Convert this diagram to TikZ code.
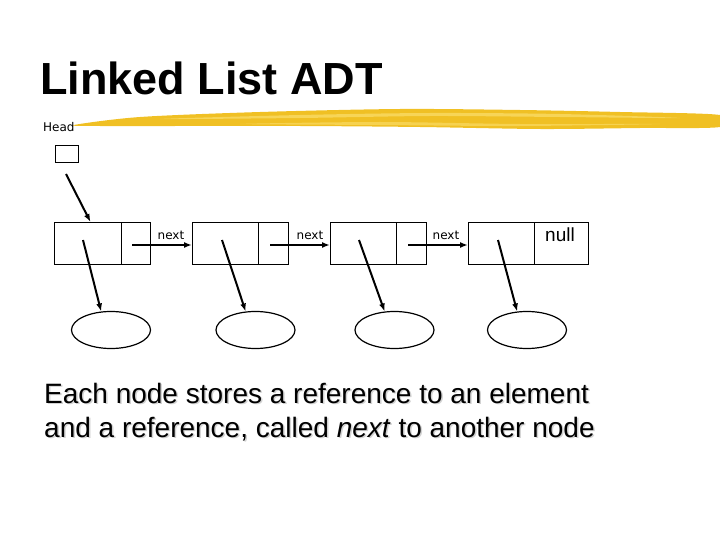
\documentclass[tikz,border=0pt]{standalone}
\usepackage{fontspec}
\setmainfont{Liberation Sans}
\newfontfamily\smallfont{DejaVu Sans}
\usetikzlibrary{arrows.meta,shapes.geometric,calc}
\definecolor{brushyellow}{RGB}{240,192,36}
\definecolor{brushlight}{RGB}{250,222,110}
\begin{document}
\begin{tikzpicture}[x=1pt,y=-1pt,
  cell/.style={draw,line width=1pt,minimum height=42pt,inner sep=0pt,anchor=north west},
  elem/.style={draw,ellipse,line width=1.2pt,minimum width=79pt,minimum height=37pt,inner sep=0pt},
  ptr/.style={line width=2pt,-{Latex[length=8pt,width=6pt]}},
  lbl/.style={font=\smallfont\fontsize{12}{14}\selectfont,inner sep=0pt,anchor=base},
  body/.style={font=\fontsize{28}{34}\selectfont,inner sep=0pt,anchor=base west}
]
\useasboundingbox (0,0) rectangle (720,540);
% brush stroke
\fill[brushyellow] plot[smooth cycle,tension=0.5] coordinates{
 (74,125) (140,117) (260,112) (400,109) (520,110) (620,112) (720,115)
 (720,127) (640,128) (540,129) (420,127) (300,126) (180,126) (100,126)};
\fill[brushlight,opacity=0.7] plot[smooth cycle,tension=0.5] coordinates{
 (160,119) (300,115) (430,113) (560,114) (680,118) (560,117) (430,116) (300,118)};
\fill[brushlight,opacity=0.6] plot[smooth cycle,tension=0.5] coordinates{
 (240,124) (380,122) (520,124) (660,124) (520,126) (380,125)};
% title
\node[font=\bfseries\fontsize{45}{54}\selectfont,inner sep=0pt,anchor=base west] (title) at (40,95) {Linked List ADT};
% head
\node[lbl,anchor=base west] (headlbl) at (43,132) {Head};
\node[draw,line width=1pt,minimum width=23pt,minimum height=17pt,inner sep=0pt,anchor=north west] (head) at (55,145) {};
% list nodes
\node[cell,minimum width=67pt] (d1) at (54,222) {};
\node[cell,minimum width=29pt] (n1) at (121,222) {};
\node[cell,minimum width=66pt] (d2) at (192,222) {};
\node[cell,minimum width=30pt] (n2) at (258,222) {};
\node[cell,minimum width=66pt] (d3) at (330,222) {};
\node[cell,minimum width=30pt] (n3) at (396,222) {};
\node[cell,minimum width=66pt] (d4) at (468,222) {};
\node[cell,minimum width=54pt] (n4) at (534,222) {};
\node[font=\fontsize{19}{22}\selectfont,inner sep=0pt,anchor=base] (null) at (560,241) {null};
% next labels
\node[lbl] (nx1) at (171,240) {next};
\node[lbl] (nx2) at (310,240) {next};
\node[lbl] (nx3) at (446,240) {next};
% element ellipses
\node[elem] (e1) at (111,330) {};
\node[elem] (e2) at (255.5,330) {};
\node[elem] (e3) at (394.5,330) {};
\node[elem] (e4) at (527,330) {};
% coordinates for arrow tails
\coordinate (hs) at (66,174);
\coordinate (p1) at (132,245);
\coordinate (p2) at (270,245);
\coordinate (p3) at (408,245);
\coordinate (s1) at (83,240);
\coordinate (s2) at (222,240);
\coordinate (s3) at (359,240);
\coordinate (s4) at (498,240);
% arrows
\draw[ptr] (hs) -- ($(d1.north)+(2.5,0)$);
\draw[ptr] (p1) -- (d2.west |- p1);
\draw[ptr] (p2) -- (d3.west |- p2);
\draw[ptr] (p3) -- (d4.west |- p3);
\draw[ptr] (s1) -- (e1.118);
\draw[ptr] (s2) -- (e2.118);
\draw[ptr] (s3) -- (e3.118);
\draw[ptr] (s4) -- (e4.118);
% body text with shadow
\node[body,text=gray!35] at (45.5,404.5) {Each node stores a reference to an element};
\node[body,text=gray!35] at (45.5,438.5) {and a reference, called \textit{next} to another node};
\node[body] (t1) at (44,403) {Each node stores a reference to an element};
\node[body] (t2) at (44,437) {and a reference, called \textit{next} to another node};
\end{tikzpicture}
\end{document}
